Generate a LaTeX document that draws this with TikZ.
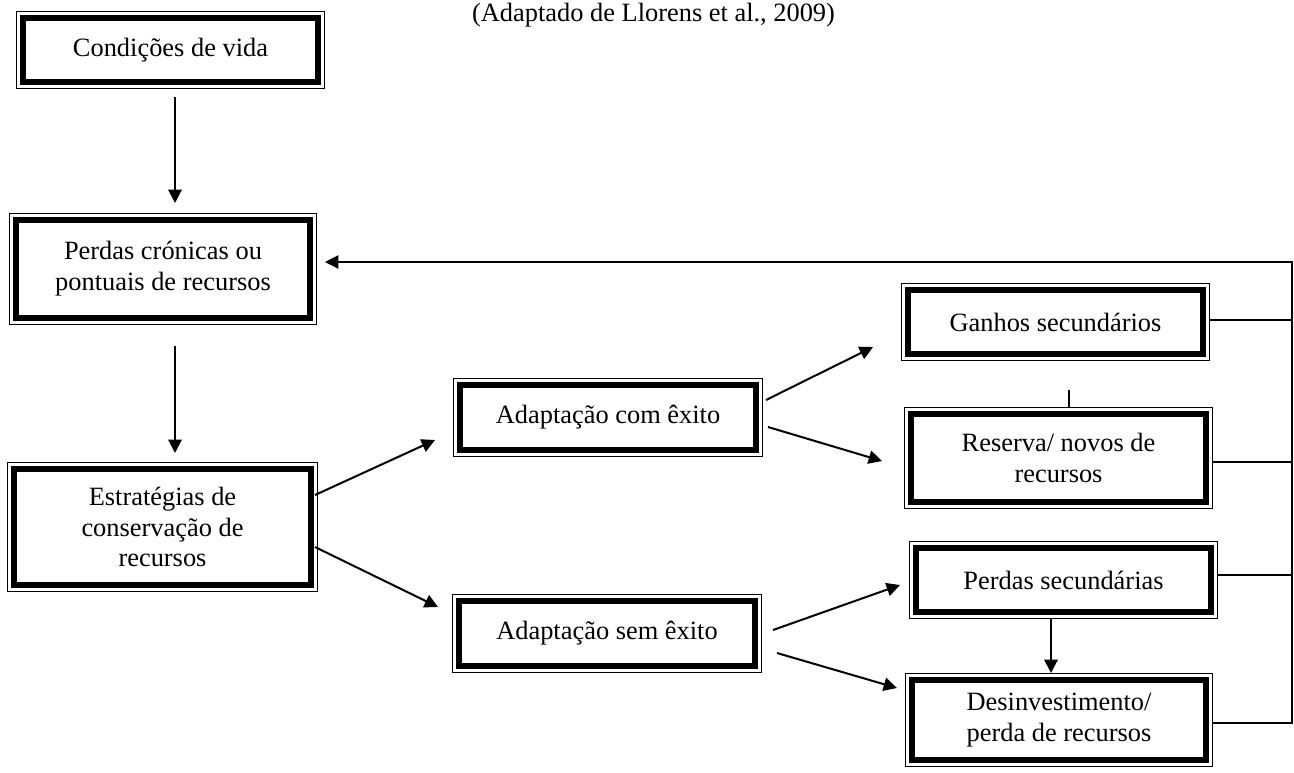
\documentclass[tikz,border=0pt]{standalone}
\usepackage{fontspec}
\setmainfont{Liberation Serif}
\usetikzlibrary{arrows.meta,calc}
\tikzset{
  dbox/.style={rectangle, fill=white, draw=black, line width=5pt,
    inner sep=0pt, outer sep=5.15pt, align=center,
    font=\fontsize{19.8}{23.2}\selectfont,
    preaction={draw=black, line width=10.3pt},
    preaction={draw=white, line width=8.3pt}},
  arr/.style={line width=1.5pt, -{Triangle[length=10pt,width=10pt]}},
  link/.style={line width=0.9pt},
  linkarr/.style={line width=0.9pt, -{Triangle[length=10pt,width=10pt]}}
}
\begin{document}
\begin{tikzpicture}[x=0.75pt,y=-0.75pt]
\useasboundingbox (0,0) rectangle (1294,772);

\node[anchor=base, inner sep=0pt, font=\fontsize{19.8}{23.2}\selectfont] (src) at (653.5,21)
  {(Adaptado de Llorens et al., 2009)};

% framed boxes (sizes are the heavy band's centre line)
\node[dbox, minimum width=221.45pt, minimum height=48.2pt]  (cond)    at (170.5,50)   {Condições de vida};
\node[dbox, minimum width=220.7pt,  minimum height=73.7pt]  (perdas)  at (163,269)    {Perdas crónicas ou\\pontuais de recursos};
\node[dbox, minimum width=222.95pt, minimum height=87.2pt]  (estr)    at (162.5,527)  {Estratégias de\\conservação de\\recursos};
\node[dbox, minimum width=222.2pt,  minimum height=48.95pt] (adcom)   at (608,417.5)  {Adaptação com êxito};
\node[dbox, minimum width=222.2pt,  minimum height=48.95pt] (adsem)   at (607,633.5)  {Adaptação sem êxito};
\node[dbox, minimum width=221.45pt, minimum height=48.2pt]  (ganhos)  at (1055.5,322) {Ganhos secundários};
\node[dbox, minimum width=221.45pt, minimum height=66.2pt]  (reserva) at (1058.5,458) {Reserva/ novos de\\recursos};
\node[dbox, minimum width=221.45pt, minimum height=48.2pt]  (psec)    at (1063.5,580) {Perdas secundárias};
\node[dbox, minimum width=220.7pt,  minimum height=60.2pt]  (desinv)  at (1059,720)   {Desinvestimento/\\perda de recursos};

% main chain
\draw[arr] ($(cond.south)+(4.5,8)$) -- ($(perdas.north)+(12,-10)$);
\draw[arr] ($(perdas.south)+(12,21)$) -- ($(estr.north)+(12.5,-9)$);

% branches
\draw[arr] ($(estr.east)+(-3,-32)$) -- ($(adcom.west)+(-18,22.5)$);
\draw[arr] ($(estr.east)+(-3,20)$) -- ($(adsem.west)+(-14,-26.5)$);
\draw[arr] ($(adcom.east)+(3,-17.5)$) -- ($(ganhos.west)+(-28,25)$);
\draw[arr] ($(adcom.east)+(5,9.5)$) -- ($(reserva.west)+(-22,3)$);
\draw[arr] ($(adsem.east)+(11,-3.5)$) -- ($(psec.west)+(-9,5)$);
\draw[arr] ($(adsem.east)+(15,19.5)$) -- ($(desinv.west)+(-8,-32)$);
\draw[arr] ($(psec.south)+(-12.5,0)$) -- ($(desinv.north)+(-8,0)$);
\draw[line width=1.5pt] ($(reserva.north)+(10.5,0)$) -- ++(0,-17);

% feedback rail on the right
\coordinate (rail) at (1292,262);
\coordinate (gE) at ($(ganhos.east)+(0,-2)$);
\coordinate (rE) at ($(reserva.east)+(0,4)$);
\coordinate (pE) at ($(psec.east)+(0,-5)$);
\draw[link] (gE) -- (gE -| rail);
\draw[link] (rE) -- (rE -| rail);
\draw[link] (pE) -- (pE -| rail);
\draw[linkarr] ($(desinv.east)+(0,3)$) -| (rail) -- ($(perdas.east)+(8,-7)$);
\end{tikzpicture}
\end{document}
